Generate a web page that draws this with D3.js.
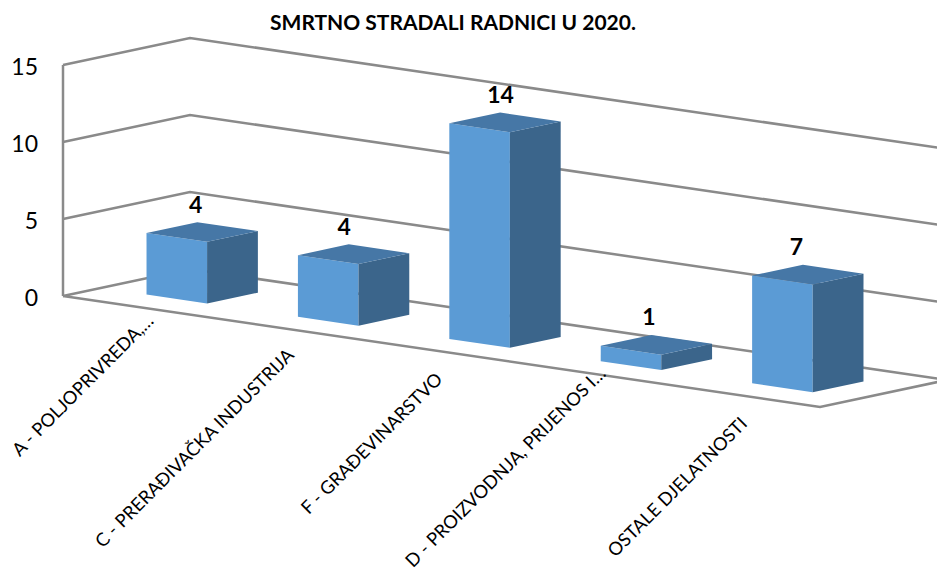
<!DOCTYPE html>
<html><head><meta charset="utf-8">
<script src="https://cdn.jsdelivr.net/npm/d3@7"></script>
<style>html,body{margin:0;padding:0;background:#fff}svg{display:block}</style>
</head><body><div id="chart"></div>
<script>
const chartTitle = "SMRTNO STRADALI RADNICI U 2020.";
const categories = ["A - POLJOPRIVREDA,…","C - PRERAĐIVAČKA INDUSTRIJA","F - GRAĐEVINARSTVO","D - PROIZVODNJA, PRIJENOS I…","OSTALE DJELATNOSTI"];
const values = [4,4,14,1,7];
const yTicks = [0,5,10,15];

const W=937,H=588;
const origin=[63,296], alongX=[757,111], depthV=[127,-27], wallH=231;
const fontFam='Lato, Carlito, "Open Sans", sans-serif';
const labelNudge=[1.5,-1.5,3.5,.5,-3.5];
const catDx=[4,-7,-10,2,-8], catDy=[-5,7,9,-19,9];

const svg=d3.select("#chart").append("svg").attr("width",W).attr("height",H).attr("viewBox",`0 0 ${W} ${H}`);
const x=d3.scaleBand().domain(categories).range([0,1]).paddingInner(.6).paddingOuter(.3);
const depth=d3.scaleBand().domain(["s"]).range([0,1]).paddingInner(0).paddingOuter(.75);
const y=d3.scaleLinear().domain([0,15]).range([0,wallH]);
const P=(u,d,v)=>[origin[0]+alongX[0]*u+depthV[0]*d, origin[1]+alongX[1]*u+depthV[1]*d-y(v)];
const line=d3.line();
const closed=pts=>line(pts)+"Z";

svg.append("text").attr("x",453).attr("y",30).attr("text-anchor","middle")
  .attr("font-family",fontFam).attr("font-weight",700).attr("font-size",21).attr("fill","#000").text(chartTitle);

// walls and floor
const grid=svg.append("g").attr("fill","none").attr("stroke","#8a8a8a").attr("stroke-width",2.5);
yTicks.forEach(t=>grid.append("path").attr("d",line([P(0,0,t),P(0,1,t),P(1,1,t)])));
grid.append("path").attr("d",line([P(0,0,0),P(0,0,15)]));
grid.append("path").attr("d",line([P(0,0,0),P(1,0,0),P(1,1,0)]));

// value axis
const yAxis=d3.scaleLinear().domain([0,15]).range([origin[1],origin[1]-wallH]);
const ax=svg.append("g").attr("transform",`translate(38,2.5)`)
  .call(d3.axisLeft(yAxis).tickValues(yTicks).tickSize(0).tickPadding(0));
ax.select(".domain").remove();
ax.selectAll("text").attr("font-family",fontFam).attr("font-size",23).attr("fill","#000");

// bars
const d0=depth("s"), d1=d0+depth.bandwidth();
const bars=svg.append("g").selectAll("g").data(categories).join("g");
bars.each(function(c,i){
  const g=d3.select(this), u0=x(c), u1=u0+x.bandwidth(), v=values[i];
  g.append("path").attr("fill","#5b9bd5").attr("d",closed([P(u0,d0,0),P(u1,d0,0),P(u1,d0,v),P(u0,d0,v)]));
  g.append("path").attr("fill","#3b658b").attr("d",closed([P(u1,d0,0),P(u1,d1,0),P(u1,d1,v),P(u1,d0,v)]));
  g.append("path").attr("fill","#4677a6").attr("d",closed([P(u0,d0,v),P(u1,d0,v),P(u1,d1,v),P(u0,d1,v)]));
  const a=P(u0,d0,v), b=P(u1,d1,v);
  g.append("text").attr("x",(a[0]+b[0])/2-8+labelNudge[i]).attr("y",P(u0,d1,v)[1]-9.5)
    .attr("text-anchor","middle").attr("font-family",fontFam).attr("font-weight",700)
    .attr("font-size",23).attr("fill","#000").text(v);
});

// category labels
svg.append("g").selectAll("text").data(categories).join("text")
  .attr("transform",(c,i)=>{const p=P(x(c)+x.bandwidth()/2,0,0);return `translate(${p[0]+12+catDx[i]},${p[1]+20+catDy[i]}) rotate(-45)`;})
  .attr("text-anchor","end").attr("font-family",fontFam).attr("font-size",18.3).attr("fill","#000").text(c=>c);
</script></body></html>
